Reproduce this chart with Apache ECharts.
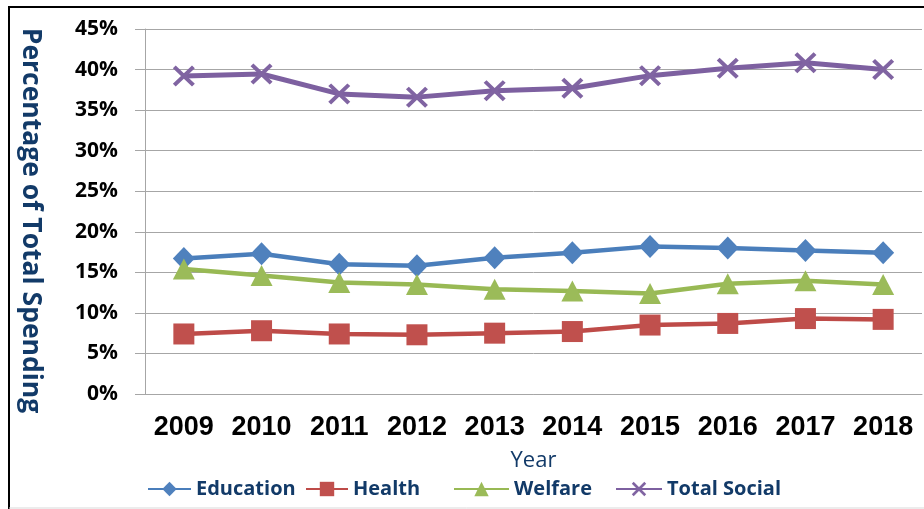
<!DOCTYPE html>
<html>
<head>
<meta charset="utf-8">
<script src="https://cdn.jsdelivr.net/npm/echarts@6/dist/echarts.min.js"></script>
<style>
  html, body { margin: 0; padding: 0; background: #fff; }
  #chart { width: 924px; height: 509px; }
</style>
</head>
<body>
<div id="chart"></div>
<script>
// values (percent of total spending)
var years = ['2009', '2010', '2011', '2012', '2013', '2014', '2015', '2016', '2017', '2018']
var education = [16.7, 17.3, 16.0, 15.8, 16.8, 17.4, 18.2, 18.0, 17.7, 17.4]
var health = [7.4, 7.8, 7.4, 7.3, 7.5, 7.7, 8.5, 8.7, 9.3, 9.2]
var welfare = [15.4, 14.6, 13.75, 13.5, 12.9, 12.7, 12.4, 13.6, 13.95, 13.5]
var totalSocial = [39.2, 39.45, 37.0, 36.6, 37.4, 37.7, 39.25, 40.15, 40.85, 40.0]

var navy = '#123a68'
var axisGray = '#a6a6a6'
var crossPath = 'path://M0,1.3L1.3,0L10,8.7L8.7,10Z M8.7,0L10,1.3L1.3,10L0,8.7Z'

var chart = echarts.init(document.getElementById('chart'))

function legendAt(name, left, width) {
  return {
    data: [name],
    left: left,
    top: 479,
    padding: 0,
    itemWidth: width,
    itemHeight: 18,
    textStyle: {
      fontFamily: 'Open Sans',
      fontWeight: 'bold',
      fontSize: 20,
      color: navy
    }
  }
}

chart.setOption({
  animation: false,
  graphic: [
    {
      type: 'polyline',
      shape: { points: [[9, 515], [9, 7], [930, 7]] },
      style: { stroke: '#000', lineWidth: 2, fill: null }
    },
    {
      type: 'line',
      shape: { x1: 9, y1: 508, x2: 924, y2: 508 },
      style: { stroke: '#d9d9d9', lineWidth: 1 }
    }
  ],
  grid: {
    left: 145,
    right: 2,
    top: 29,
    bottom: 115
  },
  legend: [
    legendAt('Education', 147, 43),
    legendAt('Health', 305, 42),
    legendAt('Welfare', 453, 55),
    legendAt('Total Social', 615, 46)
  ],
  xAxis: {
    type: 'category',
    data: years,
    name: 'Year',
    nameLocation: 'middle',
    nameGap: 56,
    nameTextStyle: {
      fontFamily: 'Open Sans',
      fontSize: 22,
      color: navy
    },
    axisLine: { lineStyle: { color: axisGray } },
    axisTick: { length: 8, lineStyle: { color: axisGray } },
    axisLabel: {
      interval: 0,
      margin: 20,
      fontFamily: 'Liberation Sans',
      fontWeight: 'bold',
      fontSize: 27,
      color: '#000'
    }
  },
  yAxis: {
    type: 'value',
    min: 0,
    max: 45,
    interval: 5,
    name: 'Percentage of Total Spending',
    nameLocation: 'middle',
    nameRotate: -90,
    nameGap: 101,
    nameTextStyle: {
      fontFamily: 'Open Sans',
      fontWeight: 'bold',
      fontSize: 26.5,
      color: navy,
      padding: [0, 0, 0, 18]
    },
    axisLine: { show: true, lineStyle: { color: axisGray } },
    axisTick: { show: true, length: 10, lineStyle: { color: axisGray } },
    splitLine: { lineStyle: { color: axisGray } },
    axisLabel: {
      formatter: '{value}%',
      margin: 27,
      fontFamily: 'Open Sans',
      fontWeight: 'bold',
      fontSize: 21,
      color: '#000'
    }
  },
  series: [
    {
      name: 'Education',
      type: 'line',
      data: education,
      symbol: 'diamond',
      symbolSize: [22, 23],
      color: '#4a7ebb',
      lineStyle: { width: 4.5, color: '#4a7ebb' },
      itemStyle: { color: '#4f81bd' }
    },
    {
      name: 'Health',
      type: 'line',
      data: health,
      symbol: 'rect',
      symbolSize: 21,
      color: '#be4b48',
      lineStyle: { width: 4.5, color: '#be4b48' },
      itemStyle: { color: '#c0504d' }
    },
    {
      name: 'Welfare',
      type: 'line',
      data: welfare,
      symbol: 'triangle',
      symbolSize: [22, 21],
      color: '#98b954',
      lineStyle: { width: 4.5, color: '#98b954' },
      itemStyle: { color: '#9bbb59' }
    },
    {
      name: 'Total Social',
      type: 'line',
      data: totalSocial,
      symbol: crossPath,
      symbolSize: [22, 21],
      color: '#7d60a0',
      lineStyle: { width: 5, color: '#7d60a0' },
      itemStyle: { color: '#8064a2' }
    }
  ]
})
</script>
</body>
</html>
